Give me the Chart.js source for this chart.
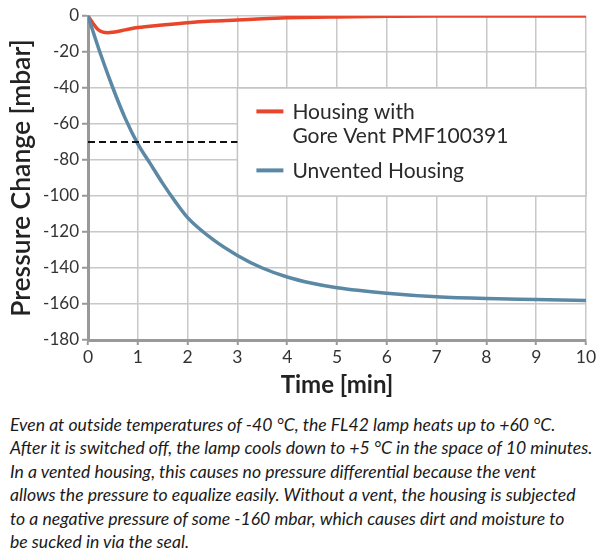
<!DOCTYPE html>
<html>
<head>
<meta charset="utf-8">
<script src="https://cdn.jsdelivr.net/npm/chart.js@4"></script>
<style>
  html, body { margin:0; padding:0; background:#fff; }
  #wrap { position:absolute; left:0; top:0; width:600px; height:400px; }
  #caption { position:absolute; left:10px; top:413px; font-family:Lato, sans-serif; font-style:italic;
    font-size:17.6px; line-height:23.4px; color:#1a1a1a; white-space:nowrap; }
</style>
</head>
<body>
<div id="wrap"><canvas id="c" width="600" height="400"></canvas></div>
<div id="caption">Even at outside temperatures of -40 °C, the FL42 lamp heats up to +60 °C.<br>After it is switched off, the lamp cools down to +5 °C in the space of 10 minutes.<br>In a vented housing, this causes no pressure differential because the vent<br>allows the pressure to equalize easily. Without a vent, the housing is subjected<br>to a negative pressure of some -160 mbar, which causes dirt and moisture to<br>be sucked in via the seal.</div>
<script>
// ---- data ----
const ventedTime   = [0, 0.1, 0.2, 0.3, 0.4, 0.5, 0.75, 1, 1.5, 2, 2.5, 3, 3.5, 4, 5, 6, 7, 8, 9, 10];
const ventedValues = [0, -4, -7.5, -9, -9.3, -9, -7.7, -6.4, -5, -3.7, -2.8, -2.2, -1.5, -1, -0.5, -0.2, 0, 0, 0, 0];
const unventedTime   = [0, 0.25, 0.5, 0.75, 1, 1.25, 1.5, 1.75, 2, 2.5, 3, 3.5, 4, 4.5, 5, 6, 7, 8, 9, 10];
const unventedValues = [0, -21, -40, -57, -71, -82, -93, -103, -112, -124, -133, -140, -145, -148.5, -151, -154, -156, -157, -157.5, -158];
const refLineTime   = [0, 3];
const refLineValues = [-70, -70];
const seriesNames = ['Housing with Gore Vent PMF100391', 'Unvented Housing'];
const legendLines = [['Housing with', 'Gore Vent PMF100391'], ['Unvented Housing']];
const legendBoxX = [3, 10];
const legendBoxY = [-40, -100];
const xTitle = 'Time [min]';
const yTitle = 'Pressure Change [mbar]';

const RED = '#e8452a', BLUE = '#5b88a5';
const toPts = (xs, ys) => xs.map((x, i) => ({x, y: ys[i]}));

const legendBoxPlugin = {
  id: 'legendBox',
  beforeDatasetsDraw(chart) {
    const {ctx, scales:{x, y}} = chart;
    const l = x.getPixelForValue(legendBoxX[0]), r = x.getPixelForValue(legendBoxX[1]);
    const t = y.getPixelForValue(legendBoxY[0]), b = y.getPixelForValue(legendBoxY[1]);
    ctx.save();
    ctx.fillStyle = '#fff';
    ctx.fillRect(l, t, r - l, b - t);
    ctx.strokeStyle = '#c4c4c4';
    ctx.lineWidth = 1.5;
    ctx.strokeRect(l, t, r - l, b - t);
    const colors = [RED, BLUE];
    const sampleY = [23.4, 82.4];
    const baseY = [[31, 55], [90]];
    ctx.font = '21px Lato, sans-serif';
    ctx.fillStyle = '#2a2a2a';
    ctx.textBaseline = 'alphabetic';
    legendLines.forEach((lines, i) => {
      ctx.strokeStyle = colors[i];
      ctx.lineWidth = 4;
      ctx.beginPath();
      ctx.moveTo(l + 19, t + sampleY[i]);
      ctx.lineTo(l + 46, t + sampleY[i]);
      ctx.stroke();
      lines.forEach((txt, j) => ctx.fillText(txt, l + 55, t + baseY[i][j]));
    });
    ctx.restore();
  }
};

new Chart(document.getElementById('c'), {
  type: 'line',
  data: {
    datasets: [
      { label: 'ref', data: toPts(refLineTime, refLineValues), borderColor: '#111', borderWidth: 2,
        borderDash: [7, 4], pointRadius: 0, tension: 0 },
      { label: seriesNames[1], data: toPts(unventedTime, unventedValues), borderColor: BLUE, borderWidth: 3.5,
        pointRadius: 0, cubicInterpolationMode: 'monotone' },
      { label: seriesNames[0], data: toPts(ventedTime, ventedValues), borderColor: RED, borderWidth: 3.5,
        pointRadius: 0, cubicInterpolationMode: 'monotone' }
    ]
  },
  options: {
    responsive: false,
    animation: false,
    layout: { padding: { top: 16, right: 14, left: 0, bottom: 0 } },
    plugins: { legend: { display: false }, tooltip: { enabled: false } },
    scales: {
      x: {
        type: 'linear', min: 0, max: 10,
        ticks: { stepSize: 1, color: '#333', font: { family: 'Lato', size: 17.5 }, padding: 2 },
        grid: { color: '#c8c8c8', lineWidth: 1.5, tickLength: 5, tickColor: '#999', tickWidth: 2 },
        border: { color: '#999', width: 3 },
        title: { display: true, text: xTitle, color: '#222', font: { family: 'Lato', size: 24, weight: 'bold' }, padding: { top: 2, bottom: 0 } },
        afterFit(s) { s.height = 60; }
      },
      y: {
        min: -180, max: 0,
        ticks: { stepSize: 20, color: '#333', font: { family: 'Lato', size: 17 }, padding: 3 },
        grid: { color: '#c8c8c8', lineWidth: 1.5, tickLength: 6, tickColor: '#999', tickWidth: 2 },
        border: { color: '#999', width: 3 },
        title: { display: true, text: yTitle, color: '#222', font: { family: 'Lato', size: 26.5, weight: '600' }, padding: { top: 6, bottom: 4 } },
        afterFit(s) { s.width = 88; }
      }
    }
  },
  plugins: [legendBoxPlugin]
});
</script>
</body>
</html>
